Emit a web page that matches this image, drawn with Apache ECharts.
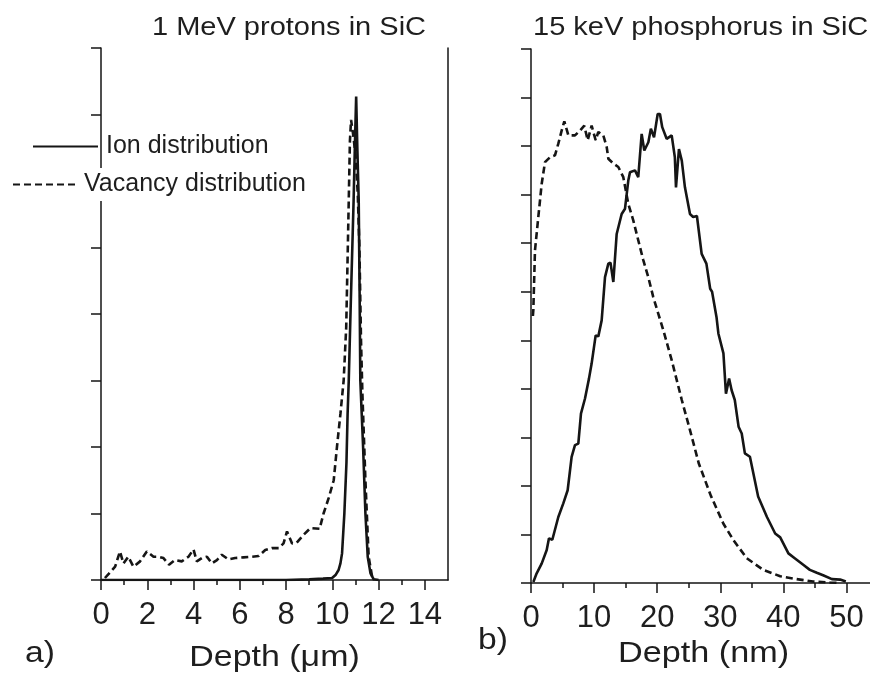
<!DOCTYPE html>
<html>
<head>
<meta charset="utf-8">
<script src="https://cdn.jsdelivr.net/npm/echarts@6/dist/echarts.min.js"></script>
<style>
  html, body { margin: 0; padding: 0; background: #fff; }
  #chart { width: 870px; height: 675px; }
</style>
</head>
<body>
<div id="chart"></div>
<script>
// ---- Panel a: 1 MeV protons in SiC (depth in micrometres, arbitrary units) ----
const leftIon = [[0,0],[4,0],[8,0],[9,0.01],[9.6,0.02],[9.99,0.03],[10.15,0.08],[10.27,0.15],[10.35,0.25],[10.42,0.4],[10.52,1.0],[10.61,1.76],[10.66,2.5],[10.71,3.0],[10.8,4.2],[10.92,5.71],[10.98,6.6],[11.03,7.27],[11.08,6.5],[11.14,5.71],[11.18,4.3],[11.21,3.0],[11.27,2.5],[11.33,2.0],[11.43,1.0],[11.53,0.35],[11.65,0.1],[11.79,0.01],[12,0]];
const leftVacancy = [[0.17,0.03],[0.61,0.2],[0.82,0.43],[0.97,0.25],[1.18,0.35],[1.4,0.2],[1.69,0.28],[1.98,0.43],[2.27,0.35],[2.48,0.35],[2.7,0.33],[2.94,0.23],[3.2,0.3],[3.49,0.28],[3.78,0.35],[4.0,0.46],[4.14,0.28],[4.36,0.33],[4.58,0.35],[4.79,0.25],[5.01,0.3],[5.22,0.38],[5.51,0.31],[5.8,0.33],[6.16,0.34],[6.52,0.35],[6.81,0.36],[7.1,0.45],[7.39,0.48],[7.68,0.48],[7.89,0.55],[8.04,0.73],[8.26,0.55],[8.46,0.56],[8.76,0.68],[9.05,0.78],[9.45,0.77],[9.62,1.0],[9.84,1.23],[10.06,1.5],[10.2,2.0],[10.35,2.5],[10.49,3.0],[10.6,3.8],[10.71,5.71],[10.76,6.6],[10.81,6.92],[10.9,6.7],[11.0,6.4],[11.1,5.8],[11.17,5.0],[11.24,3.6],[11.3,2.8],[11.43,1.5],[11.57,0.35],[11.72,0.05],[11.8,0]];
const leftTickLabels = [0,2,4,6,8,10,12,14];
const leftMinorTicks = [1,3,5,7,9,11,13];

// ---- Panel b: 15 keV phosphorus in SiC (depth in nm, arbitrary units) ----
const rightIon = [[0.37,0.02],[0.9,0.2],[1.69,0.4],[2.49,0.68],[2.85,0.92],[3.38,0.89],[4.33,1.36],[5.12,1.64],[5.81,1.91],[6.44,2.6],[6.97,2.84],[7.5,2.87],[7.92,3.49],[8.56,3.8],[9.19,4.21],[9.61,4.52],[10.25,5.1],[10.67,5.08],[11.2,5.41],[11.73,6.3],[12.26,6.58],[12.6,6.6],[13.05,6.2],[13.58,7.19],[14.37,7.6],[14.9,7.71],[15.42,8.29],[15.69,8.46],[16.48,8.5],[17.0,8.36],[17.54,9.25],[17.96,8.91],[18.6,9.08],[19.0,9.36],[19.5,9.18],[20.08,9.66],[20.44,9.66],[20.8,9.39],[21.5,9.15],[22.3,9.22],[22.8,8.77],[22.98,8.15],[23.45,8.94],[23.9,8.7],[24.4,8.15],[25.2,7.6],[25.7,7.54],[26.3,7.56],[27.05,6.78],[27.8,6.58],[28.4,6.06],[28.7,6.0],[29.4,5.48],[29.7,5.14],[30.5,4.73],[30.9,3.9],[31.4,4.21],[31.8,3.97],[32.3,3.77],[32.9,3.22],[33.4,3.08],[33.9,2.67],[34.7,2.6],[36.0,1.78],[37.4,1.36],[38.7,1.02],[39.5,0.94],[40.8,0.61],[41.8,0.51],[43.2,0.37],[44.2,0.27],[45.3,0.21],[46.3,0.16],[47.7,0.08],[49.0,0.07],[49.9,0.03]];
const rightVacancy = [[0.3,5.5],[0.37,5.62],[0.63,6.85],[1.16,7.54],[1.69,8.22],[2.22,8.67],[3.0,8.77],[3.8,8.81],[4.33,9.05],[4.86,9.32],[5.28,9.51],[5.92,9.22],[6.97,9.22],[7.77,9.32],[8.45,9.42],[8.98,9.12],[9.61,9.42],[10.25,9.12],[10.67,9.29],[11.46,9.22],[12.0,8.98],[12.26,8.74],[13.05,8.64],[13.84,8.57],[14.63,8.36],[15.42,7.81],[16.21,7.47],[17.0,7.06],[17.8,6.65],[18.59,6.3],[19.38,5.89],[20.17,5.55],[20.97,5.21],[22.3,4.59],[23.9,3.77],[25.2,3.15],[26.6,2.46],[28.5,1.8],[30.5,1.22],[32.1,0.88],[34.2,0.51],[36.8,0.27],[39.5,0.14],[42.1,0.08],[44.7,0.03],[47.4,0.01],[49,0]];
const rightTickLabels = [0,10,20,30,40,50];
const rightMinorTicks = [5,15,25,35,45];

const seriesNames = ['Ion distribution', 'Vacancy distribution'];
const titles = ['1 MeV protons in SiC', '15 keV phosphorus in SiC'];
const axisNames = ['Depth (\u03bcm)', 'Depth (nm)'];
const panelLabels = ['a)', 'b)'];

const INK = '#151515';
const FONT = '"Liberation Sans", Arial, sans-serif';

const chart = echarts.init(document.getElementById('chart'), null, { renderer: 'canvas' });

function mainX(grid, min, max, labels) {
  return {
    type: 'value', gridIndex: grid, min: min, max: max, position: 'bottom',
    axisLine: { show: true, onZero: false, lineStyle: { color: INK, width: 1.5 } },
    axisTick: { show: true, length: 10, inside: false, customValues: labels, lineStyle: { color: INK, width: 1.5 } },
    axisLabel: { show: true, customValues: labels, margin: 35, verticalAlign: 'middle',
      color: '#1e1e1e', fontFamily: FONT, fontSize: 31 },
    splitLine: { show: false }
  };
}
function minorX(grid, min, max, ticks) {
  return {
    type: 'value', gridIndex: grid, min: min, max: max, position: 'bottom', offset: 0,
    axisLine: { show: false },
    axisTick: { show: true, length: 5, inside: false, customValues: ticks, lineStyle: { color: INK, width: 1.5 } },
    axisLabel: { show: false },
    splitLine: { show: false }
  };
}
function mainY(grid, max) {
  return {
    type: 'value', gridIndex: grid, min: 0, max: max, interval: 1, position: 'left',
    axisLine: { show: true, onZero: false, lineStyle: { color: INK, width: 1.5 } },
    axisTick: { show: true, length: 10, inside: false, lineStyle: { color: INK, width: 1.5 } },
    axisLabel: { show: false },
    splitLine: { show: false }
  };
}

const solidStyle = { color: INK, width: 2.6, type: 'solid' };
const dashStyle = { color: INK, width: 2.6, type: [7, 4] };

function textEl(x, y, text, size, scaleX, align) {
  return {
    type: 'text', x: x, y: y, scaleX: scaleX, scaleY: 1,
    style: { text: text, x: 0, y: 0, fill: '#1e1e1e', font: size + 'px ' + FONT,
      align: align, verticalAlign: 'middle' }
  };
}

const legendText = { color: '#1e1e1e', fontFamily: FONT, fontSize: 25, backgroundColor: '#fff', padding: [4, 2, 4, 3] };

const option = {
  animation: false,
  backgroundColor: '#fff',
  grid: [
    { left: 101, top: 48, width: 347, height: 532, outerBoundsMode: 'none', containLabel: false },
    { left: 531, top: 49, width: 347, height: 534, outerBoundsMode: 'none', containLabel: false }
  ],
  xAxis: [
    mainX(0, 0, 15, leftTickLabels),
    minorX(0, 0, 15, leftMinorTicks),
    mainX(1, 0, 55, rightTickLabels),
    minorX(1, 0, 55, rightMinorTicks)
  ],
  yAxis: [
    mainY(0, 8),
    { type: 'value', gridIndex: 0, min: 0, max: 8, position: 'right',
      axisLine: { show: true, onZero: false, lineStyle: { color: INK, width: 1.5 } },
      axisTick: { show: false }, axisLabel: { show: false }, splitLine: { show: false } },
    mainY(1, 11)
  ],
  legend: [
    { data: [seriesNames[0]], left: 32, top: 130, padding: 0, itemWidth: 65, itemHeight: 14,
      backgroundColor: 'transparent', selectedMode: false, z: 10,
      itemStyle: { opacity: 0 }, textStyle: legendText },
    { data: [seriesNames[1]], left: 12, top: 168, padding: 0, itemWidth: 63, itemHeight: 14,
      backgroundColor: 'transparent', selectedMode: false, z: 10,
      itemStyle: { opacity: 0 }, textStyle: legendText }
  ],
  series: [
    { name: seriesNames[0], type: 'line', xAxisIndex: 0, yAxisIndex: 0, data: leftIon,
      symbol: 'none', showSymbol: false, lineStyle: solidStyle, itemStyle: { color: INK }, z: 3 },
    { name: seriesNames[1], type: 'line', xAxisIndex: 0, yAxisIndex: 0, data: leftVacancy,
      symbol: 'none', showSymbol: false, lineStyle: dashStyle, itemStyle: { color: INK }, z: 2 },
    { name: seriesNames[0], type: 'line', xAxisIndex: 2, yAxisIndex: 2, data: rightIon,
      symbol: 'none', showSymbol: false, lineStyle: solidStyle, itemStyle: { color: INK }, z: 3 },
    { name: seriesNames[1], type: 'line', xAxisIndex: 2, yAxisIndex: 2, data: rightVacancy,
      symbol: 'none', showSymbol: false, lineStyle: dashStyle, itemStyle: { color: INK }, z: 2 }
  ],
  graphic: [
    textEl(152, 28, titles[0], 25, 1.16, 'left'),
    textEl(533, 28, titles[1], 25, 1.16, 'left'),
    textEl(274.5, 658, axisNames[0], 29, 1.17, 'center'),
    textEl(703.5, 654, axisNames[1], 29, 1.18, 'center'),
    textEl(25, 654, panelLabels[0], 29, 1.16, 'left'),
    textEl(478, 641, panelLabels[1], 29, 1.16, 'left')
  ]
};

chart.setOption(option);
</script>
</body>
</html>
